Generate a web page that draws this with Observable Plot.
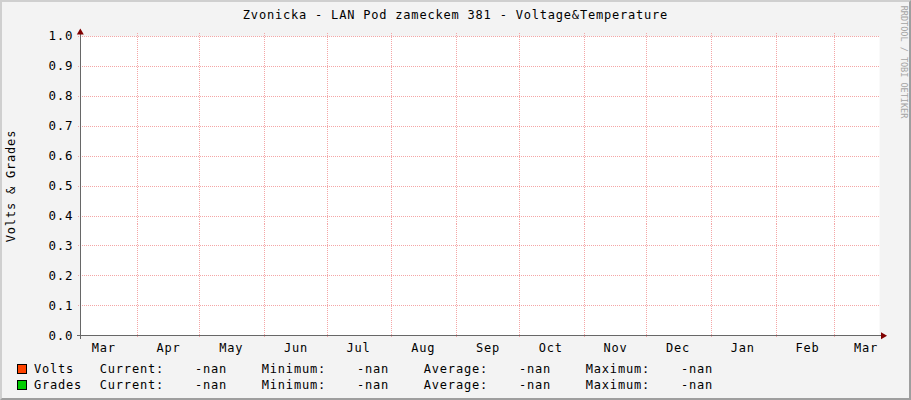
<!DOCTYPE html>
<html>
<head>
<meta charset="utf-8">
<script src="https://cdn.jsdelivr.net/npm/d3@7"></script>
<script src="https://cdn.jsdelivr.net/npm/@observablehq/plot@0.6"></script>
<style>
  html, body { margin: 0; padding: 0; background: #f3f3f3; }
  #wrap {
    position: relative; width: 911px; height: 400px; box-sizing: border-box;
    border-style: solid; border-width: 2px;
    border-color: #cfcfcf #9e9e9e #9e9e9e #cfcfcf;
    background: #f3f3f3; overflow: hidden;
    font-family: "DejaVu Sans Mono", monospace; font-size: 12px; letter-spacing: 0.8px; color: #000;
  }
  #chart { position: absolute; left: -2px; top: -2px; }
  #chart svg text { letter-spacing: 0.8px; }
  .t { position: absolute; white-space: pre; line-height: 12px; }
  #title { left: -2px; width: 911px; top: 7px; text-align: center; }
  #ylabel { left: 9px; top: 184px; width: 200px; text-align: center; transform: translate(-50%, -50%) rotate(-90deg); }
  #wm { left: 901px; top: 59.5px; width: 200px; text-align: center; font-size: 8.5px; letter-spacing: 0; color: #a4a4a4;
        line-height: 9px; transform: translate(-50%, -50%) rotate(90deg); }
  .sw { position: absolute; width: 10px; height: 10px; box-sizing: border-box; border: 1px solid #000; }
</style>
</head>
<body>
<div id="wrap">
  <div id="chart"></div>
  <div id="title" class="t"></div>
  <div id="ylabel" class="t"></div>
  <div id="wm" class="t"></div>
  <div id="legend"></div>
</div>
<script>
// ---- data ----
const titleText = "Zvonicka - LAN Pod zameckem 381 - Voltage&Temperature";
const yAxisLabel = "Volts & Grades";
const watermark = "RRDTOOL / TOBI OETIKER";
const domainStart = "2022-03-04T18:15:00Z";
const domainEnd = "2023-03-22T12:00:00Z";
const monthStarts = ["2022-03-01","2022-04-01","2022-05-01","2022-06-01","2022-07-01","2022-08-01",
  "2022-09-01","2022-10-01","2022-11-01","2022-12-01","2023-01-01","2023-02-01","2023-03-01"];
const monthLabels = ["Mar","Apr","May","Jun","Jul","Aug","Sep","Oct","Nov","Dec","Jan","Feb","Mar"];
const yTicks = [0.0,0.1,0.2,0.3,0.4,0.5,0.6,0.7,0.8,0.9,1.0];
const seriesNames = ["Volts", "Grades"];
const seriesColors = ["#ff4400", "#00cc00"];
const statNames = ["Current:", "Minimum:", "Average:", "Maximum:"];
const voltsStats = ["-nan", "-nan", "-nan", "-nan"];
const gradesStats = ["-nan", "-nan", "-nan", "-nan"];

// ---- chart ----
const start = new Date(domainStart), end = new Date(domainEnd);
const starts = monthStarts.map(d => new Date(d));
const gridMonths = starts.filter(d => d > start && d < end);
const labelDates = starts.map(d => d3.utcDay.offset(d, 15));
const labelByTime = new Map(labelDates.map((d, i) => [+d, monthLabels[i]]));
const gridColor = "#f4a6a6";
const axisColor = "#666666";
const arrowColor = "#800000";

const plot = Plot.plot({
  width: 911, height: 400,
  marginLeft: 80, marginRight: 30, marginTop: 36, marginBottom: 64,
  x: { type: "utc", domain: [start, end] },
  y: { domain: [0, 1] },
  style: { background: "transparent", fontFamily: "DejaVu Sans Mono, monospace", fontSize: "12px", letterSpacing: "0.8px", color: "#000" },
  marks: [
    Plot.frame({ fill: "white", stroke: "none" }),
    Plot.ruleY(yTicks.filter(v => v > 0), { stroke: gridColor, strokeDasharray: "1,1", insetLeft: -2, insetRight: -1, shapeRendering: "crispEdges" }),
    Plot.ruleX(gridMonths, { stroke: gridColor, strokeDasharray: "1,1", insetTop: -3, insetBottom: -3, shapeRendering: "crispEdges" }),
    Plot.ruleY([0], { stroke: axisColor, insetLeft: -3, insetRight: -2, shapeRendering: "crispEdges" }),
    Plot.ruleX([start], { stroke: axisColor, insetTop: -2, insetBottom: -4, shapeRendering: "crispEdges" }),
    Plot.dot([{ x: start, y: 1 }], { x: "x", y: "y", symbol: "triangle", r: 2.6, fill: arrowColor, stroke: "none", dy: -4 }),
    Plot.dot([{ x: end, y: 0 }], { x: "x", y: "y", symbol: "triangle", rotate: 90, r: 2.6, fill: arrowColor, stroke: "none", dx: 3.5 }),
    Plot.axisY({ ticks: yTicks, tickFormat: d3.format(".1f"), tickSize: 0, tickPadding: 7, label: null, fontSize: 12.5 }),
    Plot.axisX({ ticks: labelDates, tickFormat: d => labelByTime.get(+d), tickSize: 0, tickPadding: 8, label: null, fontSize: 12 })
  ]
});
document.getElementById("chart").appendChild(plot);

document.getElementById("title").textContent = titleText;
document.getElementById("ylabel").textContent = yAxisLabel;
document.getElementById("wm").textContent = watermark;

// ---- legend ----
const legend = document.getElementById("legend");
const rowTops = [361, 377];
const statX = [97.8, 259.8, 421.8, 583.8];
const valX = [193, 355, 517, 679];
const allStats = [voltsStats, gradesStats];
seriesNames.forEach((name, r) => {
  const sw = document.createElement("div");
  sw.className = "sw";
  sw.style.left = "15px"; sw.style.top = (rowTops[r] + 1) + "px";
  sw.style.background = seriesColors[r];
  legend.appendChild(sw);
  const add = (txt, x) => {
    const s = document.createElement("div");
    s.className = "t"; s.textContent = txt;
    s.style.left = x + "px"; s.style.top = rowTops[r] + "px";
    legend.appendChild(s);
  };
  add(name, 32);
  statNames.forEach((st, i) => { add(st, statX[i]); add(allStats[r][i], valX[i]); });
});
</script>
</body>
</html>
